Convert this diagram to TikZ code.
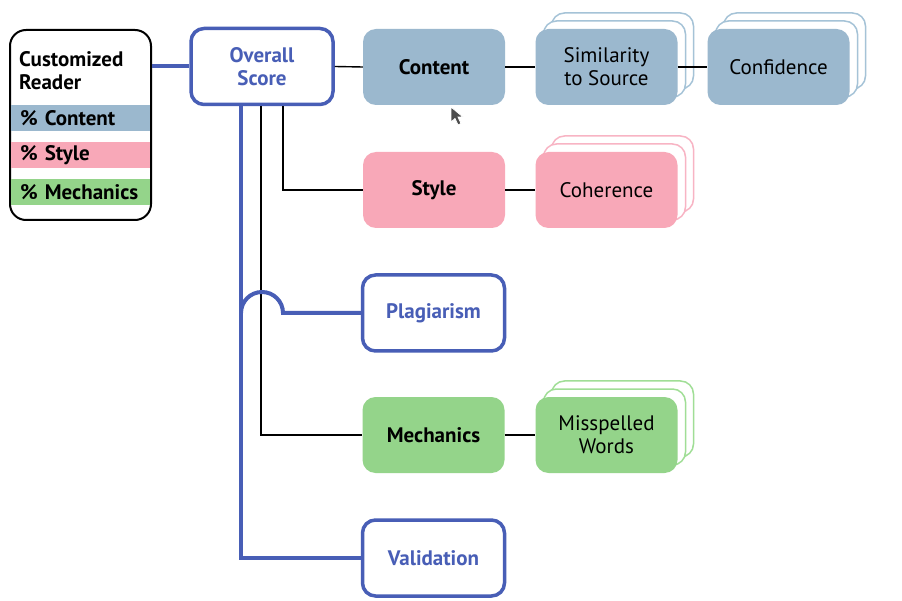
\documentclass[tikz,border=0pt]{standalone}
\usepackage{fontspec}
\setmainfont{PT Sans}
\usetikzlibrary{calc}
\definecolor{ublue}{RGB}{72,94,182}
\definecolor{cblue}{RGB}{155,184,206}
\definecolor{cbluel}{RGB}{165,195,215}
\definecolor{cpink}{RGB}{248,168,184}
\definecolor{cpinkl}{RGB}{248,180,196}
\definecolor{cgreen}{RGB}{148,212,138}
\definecolor{cgreenl}{RGB}{160,222,150}
\begin{document}
\begin{tikzpicture}[x=1pt,y=-1pt,
  every node/.style={font=\fontsize{21}{23}\selectfont},
  box/.style={rounded corners=13pt,minimum width=142pt,minimum height=76pt,align=center,inner sep=0pt},
  bluebox/.style={box,draw=ublue,line width=3.5pt,fill=white,text=ublue,font=\fontsize{21}{23}\selectfont\bfseries},
  catbox/.style={box,font=\fontsize{21}{23}\selectfont\bfseries},
  featbox/.style={box},
  thin/.style={line width=1.4pt,black},
  thick/.style={line width=4pt,ublue},
  band/.style={anchor=west,minimum width=139pt,minimum height=26pt,inner sep=0pt,text width=135pt,align=left,font=\fontsize{21}{23}\selectfont\bfseries}
]
\useasboundingbox (0,0) rectangle (902,601);
\fill[white] (0,0) rectangle (902,601);

% stacked feature boxes
\newcommand{\stackbox}[6]{% name, cx, cy, fill, line, text
  \foreach \d in {16,8}{
    \draw[line width=1.5pt,draw=#5,fill=white,rounded corners=13pt]
      (#2-71+\d,#3-38-\d) rectangle (#2+71+\d,#3+38-\d);
  }
  \node[featbox,fill=#4] (#1) at (#2,#3) {#6};
}

% Customized Reader
\node[draw=black,line width=2pt,rounded corners=16pt,minimum width=141pt,minimum height=190pt] (reader) at (80.5,125) {};
\node[band,fill=cblue] (bc) at (11,118.5) {\hspace*{7pt}\% Content};
\node[band,fill=cpink] (bs) at (11,155.5) {\hspace*{7pt}\% Style};
\node[band,fill=cgreen] (bm) at (11,192.5) {\hspace*{7pt}\% Mechanics};
\node[anchor=north west,align=left,inner sep=0pt,font=\fontsize{21}{23}\selectfont\bfseries] (rt) at (19,51) {Customized\\Reader};

% main boxes
\node[bluebox] (overall) at (262,66.5) {Overall\\Score};
\node[catbox,fill=cblue] (content) at (434,67) {Content};
\node[catbox,fill=cpink] (style) at (434,190) {Style};
\node[bluebox] (plag) at (433.5,313) {Plagiarism};
\node[catbox,fill=cgreen] (mech) at (433.5,435) {Mechanics};
\node[bluebox] (valid) at (433.5,558) {Validation};

\stackbox{sim}{606.5}{67}{cblue}{cbluel}{\rule{0pt}{4pt}Similarity\\to Source}
\stackbox{conf}{778.5}{67}{cblue}{cbluel}{Confidence}
\stackbox{coh}{606.5}{190}{cpink}{cpinkl}{Coherence}
\stackbox{miss}{606.5}{435}{cgreen}{cgreenl}{\rule{0pt}{4pt}Misspelled\\Words}

% connectors
\draw[thick] (overall.west -| reader.east) -- (overall.west);
\draw[thin] (overall.east) -- (content.west);
\draw[thin] (content.east) -- (sim.west);
\draw[thin] (sim.east) -- (conf.west);
\draw[thin] (style.east) -- (coh.west);
\draw[thin] (mech.east) -- (miss.west);
\draw[thin] ($(overall.south)+(21,0)$) |- (style.west);
\draw[thin] ($(overall.south)+(-1,0)$) |- (mech.west);
\draw[thick] ($(overall.south)+(-21,0)$) |- (valid.west);
\coordinate (hopL) at ($(overall.south)+(-21,0)$);
\draw[thick] (hopL |- plag.west) .. controls +(0,-11.6) and +(-11.6,0) .. ++(21,-21)
  .. controls +(11.6,0) and +(0,-11.6) .. ++(21,21) -- (plag.west);

% mouse pointer
\filldraw[fill=black!70,draw=white,line width=0.8pt]
  (451,107) -- (451,122) -- (455,118.5) -- (458,125) -- (461,123.5) -- (458,117) -- (463,117) -- cycle;
\end{tikzpicture}
\end{document}
